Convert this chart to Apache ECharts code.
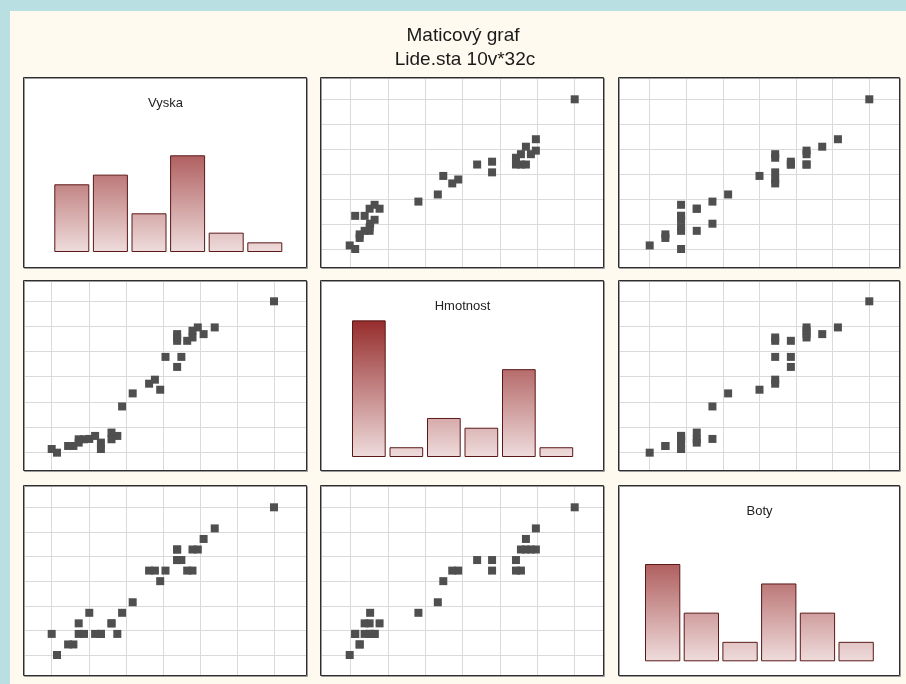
<!DOCTYPE html>
<html>
<head>
<meta charset="utf-8">
<script src="https://cdn.jsdelivr.net/npm/echarts@6/dist/echarts.min.js"></script>
<style>
html,body{margin:0;padding:0;background:#b9dfe3;}
#chart{width:906px;height:684px;}
</style>
</head>
<body>
<div id="chart"></div>
<script>
// ---- data (32 persons) ----
const vyska = [196, 184.8, 182.7, 181.6, 180.6, 180.6, 179.6, 177.7, 177.7, 177.7, 177.7, 178.5, 175.5, 174.5, 173.5, 172.4, 169.3, 167.3, 166.4, 165.3, 165.3, 163.3, 163.3, 162.2, 161.1, 160.1, 159.1, 159.1, 158.1, 157.1, 155.0, 154];
const hmotnost = [90, 82.2, 80.2, 82.2, 79.2, 81.2, 78.2, 78.2, 79.2, 80.2, 70.4, 73.4, 73.4, 63.6, 66.6, 65.4, 62.5, 58.6, 49.8, 48.8, 50.8, 45.9, 47.8, 49.8, 48.9, 48.8, 48.8, 47.8, 46.8, 46.8, 44.8, 45.9];
const boty = [45.5, 44.5, 44, 43.5, 42.5, 43.5, 42.5, 43, 43.5, 43.5, 43, 43, 42.5, 42, 42.5, 42.5, 41, 40.5, 39.5, 40, 40, 39.5, 39.5, 39.5, 40.5, 39.5, 39.5, 40, 39, 39, 38.5, 39.5];

// grid line (tick) values of each variable
const vyskaTicks = [154, 161, 168, 175, 182, 189, 196];
const hmotnostTicks = [45, 52.5, 60, 67.5, 75, 82.5, 90];
const botyTicks = [38.5, 39.6667, 40.8333, 42, 43.1667, 44.3333, 45.5];

// histogram bins and counts
const vyskaBins = ['154-161', '161-168', '168-175', '175-182', '182-189', '189-196'];
const vyskaCounts = [7, 8, 4, 10, 2, 1];
const hmotnostBins = ['45-52.5', '52.5-60', '60-67.5', '67.5-75', '75-82.5', '82.5-90'];
const hmotnostCounts = [14, 1, 4, 3, 9, 1];
const botyBins = ['38.5-39.7', '39.7-40.8', '40.8-42', '42-43.2', '43.2-44.3', '44.3-45.5'];
const botyCounts = [10, 5, 2, 8, 5, 2];

const names = ['Vyska', 'Hmotnost', 'Boty'];
const titleMain = 'Maticový graf';
const titleSub = 'Lide.sta 10v*32c';

// ---- layout ----
const vars = [
  {name: names[0], data: vyska, ticks: vyskaTicks, bins: vyskaBins, counts: vyskaCounts},
  {name: names[1], data: hmotnost, ticks: hmotnostTicks, bins: hmotnostBins, counts: hmotnostCounts},
  {name: names[2], data: boty, ticks: botyTicks, bins: botyBins, counts: botyCounts}
];
const cols = [
  {left: 24, width: 283, g0: 51.7, g6: 274},
  {left: 321, width: 283, g0: 350.7, g6: 574.7},
  {left: 619, width: 281, g0: 649.7, g6: 869.3}
];
const rows = [
  {top: 78, height: 190, g6: 99.3, g0: 249},
  {top: 281, height: 190, g6: 301.3, g0: 452},
  {top: 486, height: 190, g6: 507.3, g0: 655}
];
const histLayout = [
  {left: 52.5, width: 231.6, barWidth: 35, baseline: 252, unit: 9.67},
  {left: 350.1, width: 225, barWidth: 33.7, baseline: 457, unit: 9.76},
  {left: 643.3, width: 232.2, barWidth: 35.3, baseline: 661.3, unit: 9.73}
];
const HIST_MAX = 16;

const grids = [], xAxes = [], yAxes = [], series = [], graphics = [];
const FONT = '"Liberation Sans", Arial, sans-serif';

graphics.push({type: 'rect', shape: {x: 10, y: 11, width: 906, height: 684}, style: {fill: '#fffaef'}, z: -20, silent: true});
graphics.push({type: 'text', x: 463, y: 36, z: 10, style: {text: titleMain, font: '19px ' + FONT, fill: '#1a1a1a', textAlign: 'center', align: 'center', textVerticalAlign: 'middle', verticalAlign: 'middle'}});
graphics.push({type: 'text', x: 465, y: 59.5, z: 10, style: {text: titleSub, font: '19px ' + FONT, fill: '#1a1a1a', textAlign: 'center', align: 'center', textVerticalAlign: 'middle', verticalAlign: 'middle'}});

let gi = 0;
for (let r = 0; r < 3; r++) {
  for (let c = 0; c < 3; c++) {
    const col = cols[c], row = rows[r];
    // panel frame
    graphics.push({type: 'rect', shape: {x: col.left, y: row.top, width: col.width, height: row.height}, style: {fill: '#ffffff'}, z: -10, silent: true});
    graphics.push({type: 'rect', shape: {x: col.left + 0.5, y: row.top + 0.5, width: col.width, height: row.height}, style: {fill: 'none', stroke: '#9a9a9a', lineWidth: 1}, z: 49, silent: true});
    graphics.push({type: 'rect', shape: {x: col.left - 0.5, y: row.top - 0.5, width: col.width, height: row.height}, style: {fill: 'none', stroke: '#2e2e2e', lineWidth: 1}, z: 50, silent: true});
    if (r === c) {
      const v = vars[r], hl = histLayout[r];
      grids.push({left: hl.left, width: hl.width, top: hl.baseline - HIST_MAX * hl.unit, height: HIST_MAX * hl.unit, containLabel: false});
      xAxes.push({gridIndex: gi, type: 'category', data: v.bins, show: false});
      yAxes.push({gridIndex: gi, type: 'value', min: 0, max: HIST_MAX, show: false});
      series.push({
        type: 'bar', xAxisIndex: gi, yAxisIndex: gi, data: v.counts, barWidth: hl.barWidth, silent: true,
        itemStyle: {
          color: {type: 'linear', x: 0, y: hl.baseline - 140, x2: 0, y2: hl.baseline, global: true,
            colorStops: [{offset: 0, color: '#942828'}, {offset: 1, color: '#efdcdc'}]},
          borderColor: '#5a1818', borderWidth: 1
        }
      });
      graphics.push({type: 'text', x: col.left + col.width / 2, y: row.top + 25.5, z: 10, style: {text: v.name, font: '13px ' + FONT, fill: '#222', textAlign: 'center', align: 'center', textVerticalAlign: 'middle', verticalAlign: 'middle'}});
    } else {
      const xv = vars[c], yv = vars[r];
      const xt = xv.ticks, yt = yv.ticks;
      const kx = (xt[6] - xt[0]) / (col.g6 - col.g0);
      const ky = (yt[6] - yt[0]) / (row.g0 - row.g6);
      grids.push({left: col.left, width: col.width, top: row.top, height: row.height, containLabel: false});
      xAxes.push({gridIndex: gi, type: 'value', show: false,
        min: xt[0] - (col.g0 - col.left) * kx, max: xt[6] + (col.left + col.width - col.g6) * kx});
      yAxes.push({gridIndex: gi, type: 'value', show: false,
        min: yt[0] - (row.top + row.height - row.g0) * ky, max: yt[6] + (row.g6 - row.top) * ky});
      series.push({
        type: 'scatter', xAxisIndex: gi, yAxisIndex: gi, z: 10, silent: true, clip: false,
        symbol: 'rect', symbolSize: 8,
        itemStyle: {color: '#4f4f4f', opacity: 1},
        data: xv.data.map((x, i) => [x, yv.data[i]]),
        markLine: {
          silent: true, symbol: ['none', 'none'], label: {show: false}, animation: false,
          lineStyle: {color: '#dadada', width: 1, type: 'solid'},
          emphasis: {disabled: true},
          data: xt.map(t => ({xAxis: t})).concat(yt.map(t => ({yAxis: t})))
        }
      });
    }
    gi++;
  }
}

const chart = echarts.init(document.getElementById('chart'), null, {renderer: 'canvas'});
chart.setOption({
  animation: false,
  backgroundColor: '#b9dfe3',
  grid: grids,
  xAxis: xAxes,
  yAxis: yAxes,
  series: series,
  graphic: {elements: graphics}
});
</script>
</body>
</html>
